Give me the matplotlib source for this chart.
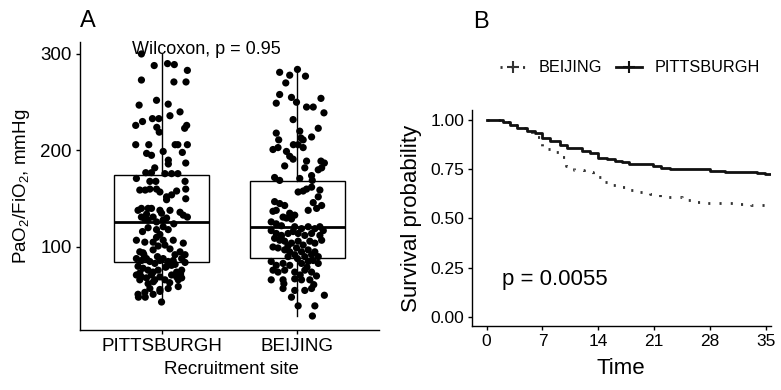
import matplotlib
matplotlib.use("Agg")
import matplotlib.pyplot as plt
from matplotlib.lines import Line2D
import numpy as np

plt.rcParams['font.family'] = ['Liberation Sans', 'DejaVu Sans']
plt.rcParams['mathtext.fontset'] = 'custom'
plt.rcParams['mathtext.rm'] = 'Liberation Sans'
plt.rcParams['mathtext.it'] = 'Liberation Sans:italic'
plt.rcParams['mathtext.bf'] = 'Liberation Sans:bold'

# ---------------- Panel A data ----------------
sites = ["PITTSBURGH", "BEIJING"]

pitt_jitter = [-0.148, -0.054, 0.044, 0.094, 0.19, -0.148, 0.091, 0.18, -0.037, -0.165, 0.049, 0.136,
               0.062, -0.067, -0.02, -0.14, -0.19, -0.035, 0.185, 0.17, -0.017, -0.19, -0.094, 0.1,
               0.12, 0.19, -0.11, -0.074, 0.012, 0.153, 0.05, 0.05, 0.178, -0.05, -0.116, -0.074,
               0.025, 0.074, 0.12, -0.185,
               -0.086, -0.042, 0.173, -0.16, -0.12, -0.086, -0.037, -0.012, 0.037, 0.074, 0.111, 0.178,
               0.178, 0.037, -0.173, -0.148, -0.099, -0.074, -0.012, 0.062, 0.136, 0.160, 0.19,
               -0.148, -0.123, -0.099, -0.062, -0.037, 0.012, 0.037, -0.099, -0.037, 0.012, 0.049,
               -0.012, -0.037, -0.185, -0.123, -0.062, 0.012, 0.086, 0.16, 0.025, -0.025, -0.062,
               -0.136, -0.16, 0.062, 0.136, 0.173, 0.099, -0.185, -0.148, -0.111, -0.086, -0.049,
               -0.012, 0.012, 0.049, 0.086, 0.148, 0.173, -0.173, -0.136, -0.099, -0.062, -0.025,
               0.037, 0.074, 0.111, 0.148, -0.185, -0.148, -0.111, -0.074, -0.012, 0.074, 0.111,
               0.148, -0.16, -0.099, -0.049, 0.025, 0.123, -0.086, -0.012, 0.049, 0.123, -0.173,
               -0.123, -0.062, -0.012, 0.0, -0.17, -0.12,
               -0.13, -0.03, 0.03, 0.1, -0.16, -0.06, 0.06, 0.14, -0.11, 0.0, 0.09, -0.14]
pitt_pf = [300, 288, 290, 289, 283, 273, 271, 271, 252, 247, 248, 240,
           236, 233, 233, 230, 226, 224, 226, 223, 219, 206, 206, 206,
           206, 206, 197, 195, 199, 198, 190, 186, 187, 182, 177, 177,
           176, 176, 176, 171,
           168, 168, 168, 159, 159, 160, 160, 157, 152, 154, 158, 160,
           150, 149, 138, 140, 140, 140, 138, 138, 136, 133, 131,
           131, 129, 128, 131, 126, 128, 130, 120, 118, 121, 118,
           113, 110, 107, 105, 105, 107, 107, 104, 102, 101, 97,
           94, 95, 98, 95, 92, 92, 88, 86, 88, 85, 83,
           86, 88, 85, 86, 88, 84, 80, 78, 76, 74, 76,
           80, 81, 74, 76, 71, 69, 68, 71, 69, 71, 69,
           68, 66, 62, 66, 66, 66, 57, 56, 57, 59, 51,
           53, 51, 54, 43, 48, 48,
           92, 90, 79, 82, 73, 64, 63, 72, 134, 135, 124, 116]

beij_jitter = [0.0, -0.131, -0.057, 0.059, -0.086, -0.131, -0.156, -0.044, -0.007, 0.067, 0.116, 0.173,
               0.195, -0.032, -0.156, -0.138, 0.017, 0.025, 0.042, 0.104, 0.153, -0.03, 0.005, 0.042,
               -0.18, -0.143, -0.081, -0.057, -0.032, -0.094, 0.067, 0.054, 0.173, 0.198, 0.178, 0.153,
               -0.168, -0.131, 0.017, 0.104, 0.109,
               0.005, 0.042, 0.067, 0.104, 0.165, 0.153, -0.168, -0.131, -0.094, -0.156, -0.180,
               0.116, 0.178, 0.141, 0.079, -0.057, -0.020, -0.106, -0.081, -0.044, -0.193, -0.156,
               -0.118, -0.020, 0.030, 0.079, 0.128, 0.165, 0.190, -0.193, -0.156, -0.118, -0.069,
               -0.032, 0.005, 0.054, 0.104, 0.165, -0.168, -0.131, -0.094, -0.044, 0.005, 0.042,
               0.091, 0.128, 0.178, -0.180, -0.143, -0.094, -0.057, -0.007, 0.030, 0.079, 0.128,
               -0.069, -0.020, 0.054, 0.104, 0.153, -0.193, -0.156, -0.106, -0.057, 0.030, 0.079,
               0.116, 0.153, -0.180, -0.143, -0.094, -0.020, 0.054, 0.104, -0.193, -0.106, -0.020,
               0.030, 0.091, -0.106, -0.020, 0.054, 0.104, -0.044, 0.198, 0.005, 0.128, 0.11,
               -0.12, -0.07, 0.0, 0.07, 0.14, -0.1, 0.02, 0.12]
beij_pf = [284, 281, 278, 277, 270, 258, 249, 255, 250, 245, 245, 254,
           239, 232, 218, 211, 220, 213, 211, 214, 223, 206, 206, 203,
           201, 203, 199, 194, 191, 184, 189, 182, 189, 187, 182, 180,
           172, 169, 171, 174, 169,
           157, 158, 160, 162, 159, 152, 147, 145, 143, 138, 137,
           146, 143, 140, 138, 135, 133, 131, 130, 129, 126, 124,
           122, 121, 119, 121, 119, 121, 117, 117, 114, 112, 114,
           116, 114, 112, 114, 112, 109, 107, 106, 104, 106, 102,
           106, 104, 107, 100, 99, 97, 95, 99, 95, 97, 95,
           90, 92, 90, 92, 90, 85, 81, 83, 81, 83, 85,
           86, 83, 76, 74, 76, 74, 76, 74, 66, 66, 67,
           66, 66, 57, 55, 55, 57, 48, 50, 39, 39, 28.5,
           110, 101, 88, 79, 70, 62, 71, 61]

# box statistics (whisker low, Q1, median, Q3, whisker high)
pitt_box = [43, 84, 126, 175, 300]
beij_box = [28, 89, 121, 168, 284]

wilcox_label = "Wilcoxon, p = 0.95"

# ---------------- Panel B data ----------------
pitt_time = [0, 2.0, 2.9, 3.8, 5.0, 6.06, 6.9, 7.9, 9.2, 10.1, 11.9, 13.0, 14.0, 15.06, 16.1, 17.0,
             17.9, 20.9, 21.9, 23.0, 28.0, 29.9, 33.9, 34.9, 35.67]
pitt_surv = [1.0, 0.988, 0.975, 0.961, 0.946, 0.932, 0.907, 0.893, 0.873, 0.856, 0.844, 0.831, 0.808,
             0.800, 0.793, 0.788, 0.776, 0.766, 0.754, 0.749, 0.741, 0.736, 0.729, 0.724, 0.724]
beij_time = [0, 2.0, 2.9, 3.8, 5.0, 5.7, 7.0, 8.5, 9.5, 10.0, 11.0, 12.2, 13.3, 14.3, 15.3, 16.5,
             17.8, 19.0, 20.5, 21.8, 24.5, 25.8, 27.3, 31.8, 33.2, 35.67]
beij_surv = [1.0, 0.988, 0.975, 0.961, 0.946, 0.912, 0.851, 0.839, 0.813, 0.768, 0.746, 0.734, 0.712,
             0.683, 0.670, 0.661, 0.644, 0.632, 0.624, 0.609, 0.595, 0.585, 0.578, 0.572, 0.568, 0.568]
logrank_label = "p = 0.0055"

W, H = 781, 390
fig = plt.figure(figsize=(W / 100, H / 100), dpi=100)

# ---------------- Panel A ----------------
axA = fig.add_axes([80 / W, (H - 330) / H, 299 / W, 288 / H])
stats = []
for b in (pitt_box, beij_box):
    stats.append(dict(whislo=b[0], q1=b[1], med=b[2], q3=b[3], whishi=b[4], fliers=[]))
axA.bxp(stats, positions=[1, 2], widths=0.7, showcaps=False, showfliers=False,
        patch_artist=True,
        boxprops=dict(facecolor='none', edgecolor='black', linewidth=1.0),
        whiskerprops=dict(color='black', linewidth=1.0),
        medianprops=dict(color='black', linewidth=2.0, solid_capstyle='butt'),
        zorder=2)
axA.scatter(1 + np.array(pitt_jitter), pitt_pf, s=27, color='black', edgecolors='none', zorder=3)
axA.scatter(2 + np.array(beij_jitter), beij_pf, s=27, color='black', edgecolors='none', zorder=3)
axA.set_xlim(0.4, 2.6)
axA.set_ylim(14, 312.4)
axA.set_yticks([100, 200, 300])
axA.set_xticks([1, 2])
axA.set_xticklabels(sites)
for s in ('top', 'right'):
    axA.spines[s].set_visible(False)
for s in ('left', 'bottom'):
    axA.spines[s].set_linewidth(1.0)
axA.tick_params(axis='both', length=3, width=1.0, labelsize=13.5, colors='black', pad=3)
axA.text(0.78, 300, wilcox_label, fontsize=13, ha='left', va='baseline')
fig.text(231 / W, 1 - 370 / H, "Recruitment site", fontsize=13.5, ha='center', va='center')
fig.text(22 / W, 1 - 186 / H, r"PaO$_2$/FiO$_2$, mmHg", fontsize=13.5, ha='center', va='center',
         rotation=90)
fig.text(80 / W, 1 - 27 / H, "A", fontsize=17, ha='left', va='baseline')

# ---------------- Panel B ----------------
axB = fig.add_axes([472 / W, (H - 326) / H, (771 - 472) / W, (326 - 110) / H])
axB.step(pitt_time, pitt_surv, where='post', color='#111111', linewidth=2.0, zorder=3)
lb, = axB.step(beij_time, beij_surv, where='post', color='#333333', linewidth=2.0, zorder=2)
lb.set_dashes([0.75, 3.3])
axB.set_xlim(-1.84, 35.67)
axB.set_ylim(-0.047, 1.051)
axB.set_xticks([0, 7, 14, 21, 28, 35])
axB.set_yticks([0, 0.25, 0.5, 0.75, 1.0])
axB.set_yticklabels(["0.00", "0.25", "0.50", "0.75", "1.00"])
for s in ('top', 'right'):
    axB.spines[s].set_visible(False)
for s in ('left', 'bottom'):
    axB.spines[s].set_linewidth(1.0)
axB.tick_params(axis='both', length=3, width=1.0, labelsize=12.5, colors='black', pad=2.5)
axB.text(1.9, 0.19, logrank_label, fontsize=16, ha='left', va='center')
fig.text(621 / W, 1 - 368 / H, "Time", fontsize=16, ha='center', va='center')
fig.text(411 / W, 1 - 218 / H, "Survival probability", fontsize=16, ha='center', va='center',
         rotation=90)
fig.text(473 / W, 1 - 28 / H, "B", fontsize=17, ha='left', va='baseline')

h_b = Line2D([], [], color='#333333', linewidth=2.0, dashes=[0.75, 3.3], marker='+',
             markersize=8, markeredgewidth=1.5)
h_p = Line2D([], [], color='#111111', linewidth=2.0, marker='+', markersize=8, markeredgewidth=1.5)
fig.legend([h_b, h_p], ["BEIJING", "PITTSBURGH"], ncol=2, loc='center',
           bbox_to_anchor=(630 / W, 1 - 68 / H), frameon=False, fontsize=11.7,
           handlelength=1.6, handletextpad=0.8, columnspacing=0.8)

fig.savefig("out.png", dpi=100)
